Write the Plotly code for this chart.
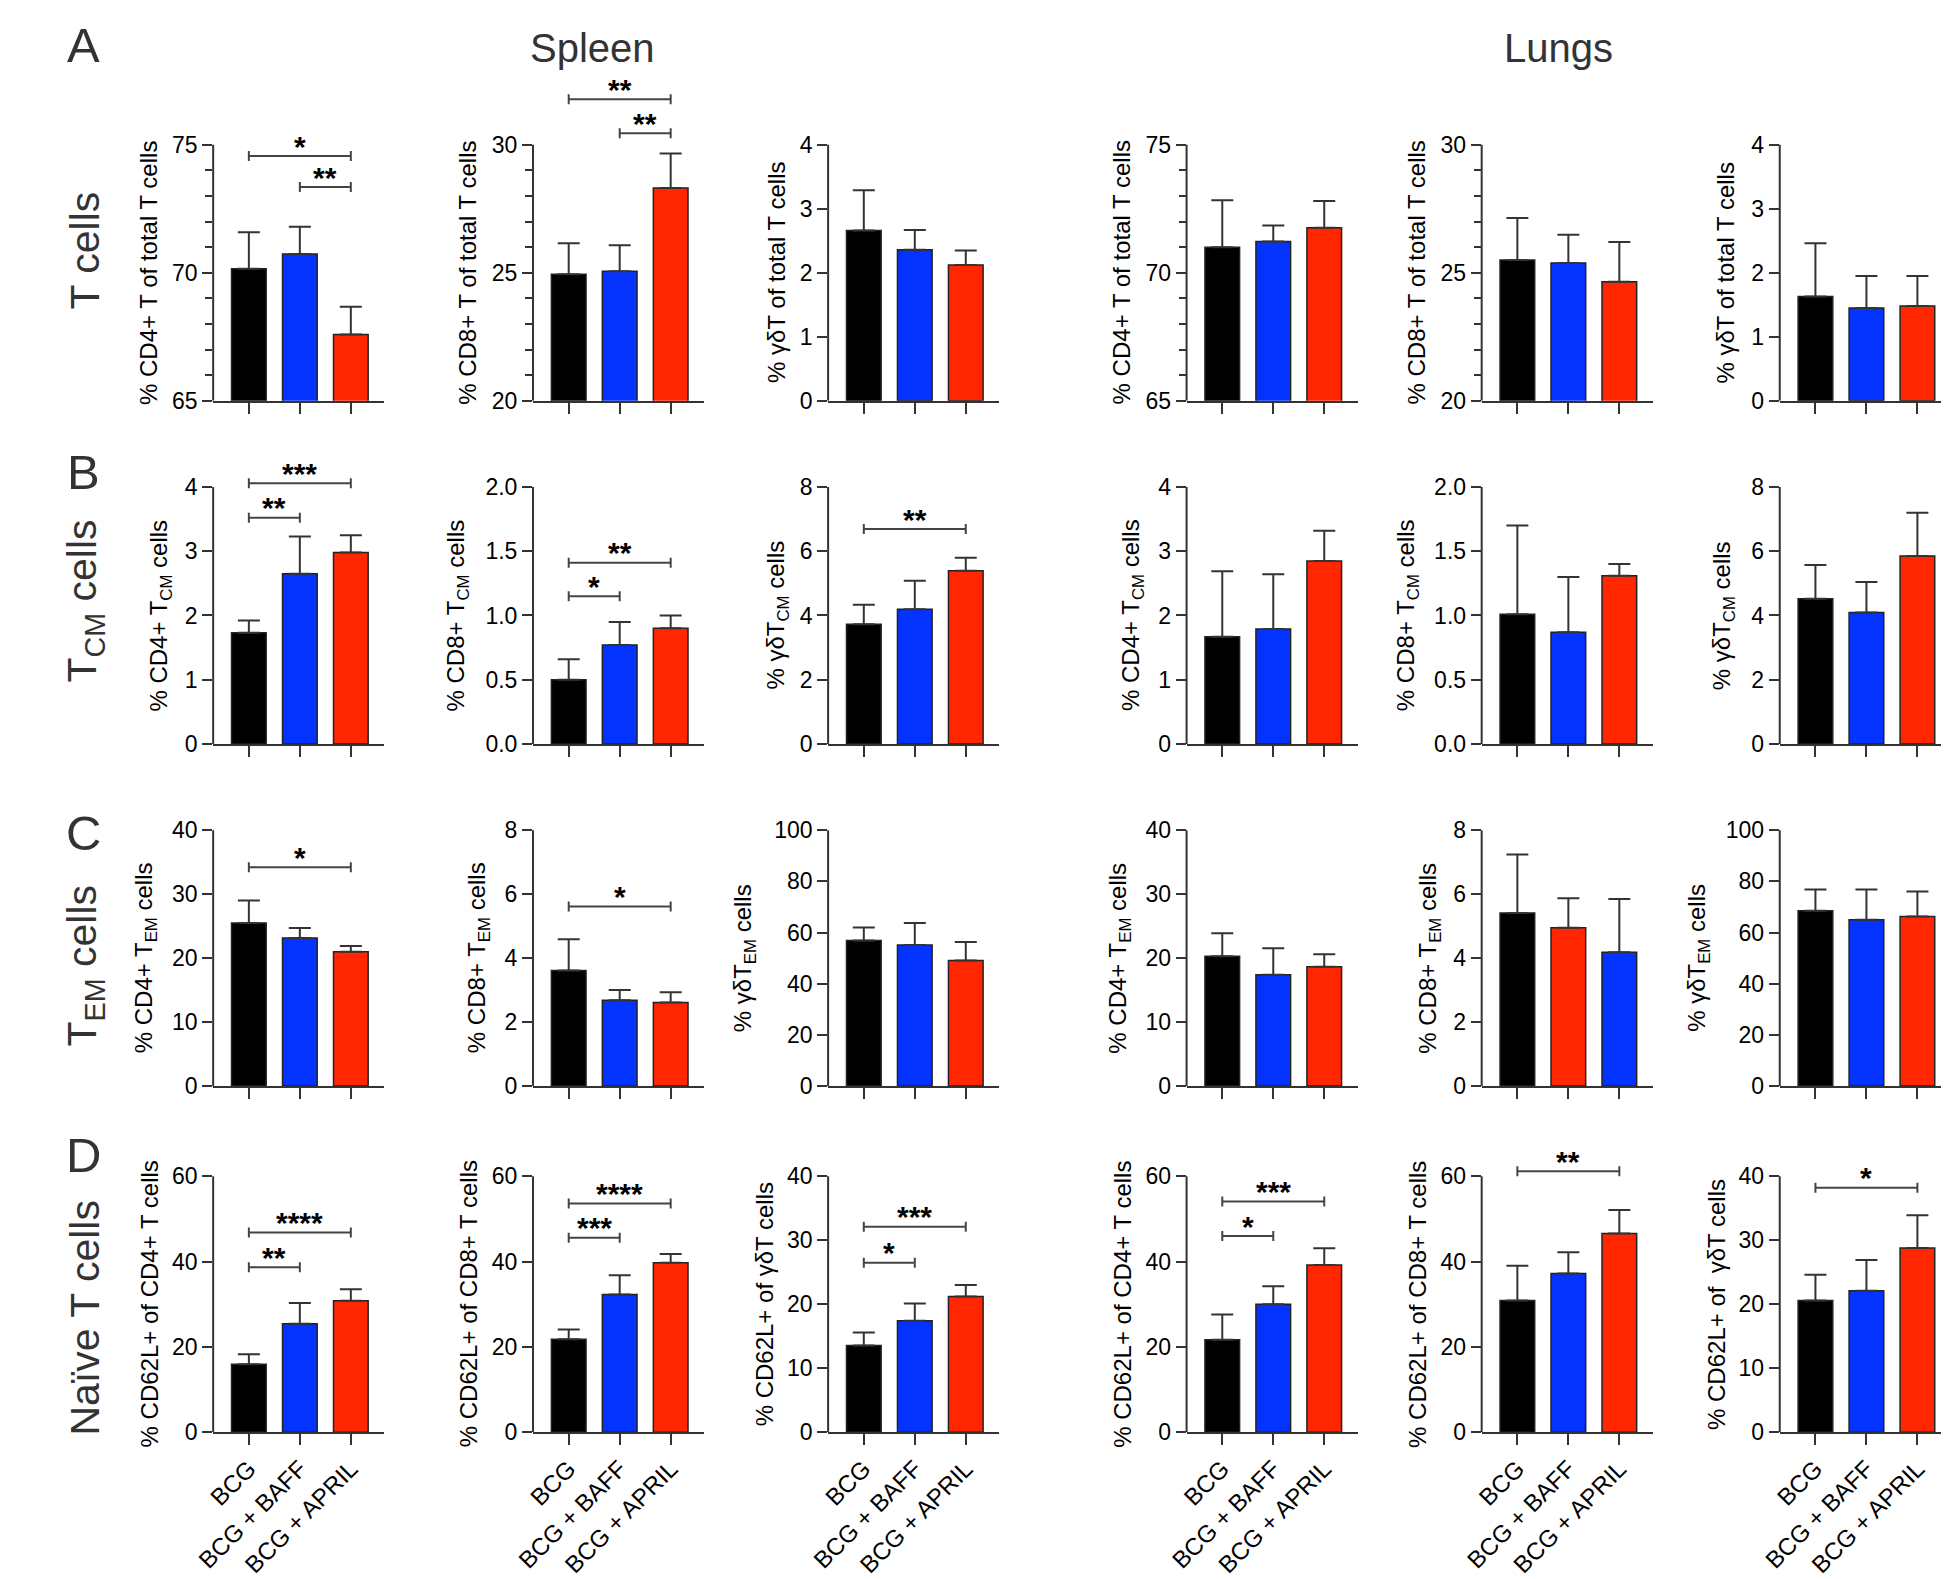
import plotly.graph_objects as go

groups = ["BCG", "BCG + BAFF", "BCG + APRIL"]
BLACK, BLUE, RED = "#000000", "#0433FF", "#FF2600"
std_colors = [BLACK, BLUE, RED]

# ---- row A: T cells, % of total T cells (spleen, then lungs)
a_spl_cd4 = [70.16, 70.73, 67.59]
a_spl_cd4_sem = [1.42, 1.07, 1.08]
a_spl_cd4_sig = [(0, 2, 74.56, "*"), (1, 2, 73.35, "**")]
a_spl_cd8 = [24.94, 25.06, 28.31]
a_spl_cd8_sem = [1.21, 1.02, 1.35]
a_spl_cd8_sig = [(0, 2, 31.78, "**"), (1, 2, 30.45, "**")]
a_spl_gd = [2.66, 2.36, 2.12]
a_spl_gd_sem = [0.63, 0.31, 0.23]
a_lun_cd4 = [71.0, 71.22, 71.76]
a_lun_cd4_sem = [1.84, 0.63, 1.05]
a_lun_cd8 = [25.5, 25.38, 24.65]
a_lun_cd8_sem = [1.64, 1.11, 1.55]
a_lun_gd = [1.63, 1.45, 1.48]
a_lun_gd_sem = [0.83, 0.50, 0.47]

# ---- row B: TCM cells
b_spl_cd4 = [1.73, 2.65, 2.98]
b_spl_cd4_sem = [0.19, 0.58, 0.27]
b_spl_cd4_sig = [(0, 2, 4.06, "***"), (0, 1, 3.52, "**")]
b_spl_cd8 = [0.50, 0.77, 0.90]
b_spl_cd8_sem = [0.16, 0.18, 0.10]
b_spl_cd8_sig = [(0, 2, 1.41, "**"), (0, 1, 1.15, "*")]
b_spl_gd = [3.73, 4.19, 5.39]
b_spl_gd_sem = [0.60, 0.89, 0.41]
b_spl_gd_sig = [(0, 2, 6.69, "**")]
b_lun_cd4 = [1.67, 1.79, 2.85]
b_lun_cd4_sem = [1.02, 0.85, 0.47]
b_lun_cd8 = [1.01, 0.87, 1.31]
b_lun_cd8_sem = [0.69, 0.43, 0.09]
b_lun_gd = [4.52, 4.09, 5.85]
b_lun_gd_sem = [1.05, 0.95, 1.35]

# ---- row C: TEM cells
c_spl_cd4 = [25.5, 23.16, 20.98]
c_spl_cd4_sem = [3.5, 1.54, 0.92]
c_spl_cd4_sig = [(0, 2, 34.2, "*")]
c_spl_cd8 = [3.61, 2.68, 2.61]
c_spl_cd8_sem = [0.98, 0.32, 0.32]
c_spl_cd8_sig = [(0, 2, 5.61, "*")]
c_spl_gd = [56.9, 55.1, 49.1]
c_spl_gd_sem = [5.1, 8.6, 7.2]
c_lun_cd4 = [20.3, 17.4, 18.65]
c_lun_cd4_sem = [3.6, 4.15, 1.95]
c_lun_cd8 = [5.41, 4.95, 4.18]
c_lun_cd8_sem = [1.83, 0.92, 1.67]
c_lun_cd8_colors = [BLACK, RED, BLUE]
c_lun_gd = [68.5, 65.0, 66.3]
c_lun_gd_sem = [8.3, 11.8, 9.7]

# ---- row D: naive T cells (CD62L+)
d_spl_cd4 = [15.9, 25.4, 30.8]
d_spl_cd4_sem = [2.4, 4.9, 2.7]
d_spl_cd4_sig = [(0, 2, 46.8, "****"), (0, 1, 38.7, "**")]
d_spl_cd8 = [21.8, 32.3, 39.7]
d_spl_cd8_sem = [2.3, 4.5, 2.1]
d_spl_cd8_sig = [(0, 2, 53.6, "****"), (0, 1, 45.6, "***")]
d_spl_gd = [13.55, 17.4, 21.2]
d_spl_gd_sem = [2.05, 2.7, 1.8]
d_spl_gd_sig = [(0, 2, 32.1, "***"), (0, 1, 26.5, "*")]
d_lun_cd4 = [21.66, 30.0, 39.2]
d_lun_cd4_sem = [5.94, 4.2, 3.9]
d_lun_cd4_sig = [(0, 2, 54.1, "***"), (0, 1, 46.0, "*")]
d_lun_cd8 = [30.9, 37.2, 46.6]
d_lun_cd8_sem = [8.15, 5.0, 5.5]
d_lun_cd8_sig = [(0, 2, 61.2, "**")]
d_lun_gd = [20.6, 22.1, 28.8]
d_lun_gd_sem = [4.0, 4.8, 5.1]
d_lun_gd_sig = [(0, 2, 38.2, "*")]

# ---- y tick sets
t_65_75 = [65, 70, 75]
m_65_75 = [66, 67, 68, 69, 71, 72, 73, 74]
t_20_30 = [20, 25, 30]
m_20_30 = [21, 22, 23, 24, 26, 27, 28, 29]
t_0_4 = [0, 1, 2, 3, 4]
t_0_2 = [0, 0.5, 1.0, 1.5, 2.0]
t_0_2_txt = ["0.0", "0.5", "1.0", "1.5", "2.0"]
t_0_8 = [0, 2, 4, 6, 8]
t_0_40 = [0, 10, 20, 30, 40]
t_0_100 = [0, 20, 40, 60, 80, 100]
t_0_60 = [0, 20, 40, 60]

# ---- y axis titles
ti_a = ["% CD4+ T of total T cells", "% CD8+ T of total T cells", "% γδT of total T cells"]
ti_b = ["% CD4+ T<sub>CM</sub> cells", "% CD8+ T<sub>CM</sub> cells", "% γδT<sub>CM</sub> cells"]
ti_c = ["% CD4+ T<sub>EM</sub> cells", "% CD8+ T<sub>EM</sub> cells", "% γδT<sub>EM</sub> cells"]
ti_d = ["% CD62L+ of CD4+ T cells", "% CD62L+ of CD8+ T cells", "% CD62L+ of γδT cells"]
ti_d6 = "% CD62L+ of  γδT cells"

row_names = ["T cells", "T<sub>CM</sub> cells", "T<sub>EM</sub> cells", "Naïve T cells"]
letters = ["A", "B", "C", "D"]

# panel table: (means, sem, colors, tickvals, ticktext, minor, title, sig)
panels = [
    [(a_spl_cd4, a_spl_cd4_sem, std_colors, t_65_75, None, m_65_75, ti_a[0], a_spl_cd4_sig),
     (a_spl_cd8, a_spl_cd8_sem, std_colors, t_20_30, None, m_20_30, ti_a[1], a_spl_cd8_sig),
     (a_spl_gd, a_spl_gd_sem, std_colors, t_0_4, None, None, ti_a[2], []),
     (a_lun_cd4, a_lun_cd4_sem, std_colors, t_65_75, None, m_65_75, ti_a[0], []),
     (a_lun_cd8, a_lun_cd8_sem, std_colors, t_20_30, None, m_20_30, ti_a[1], []),
     (a_lun_gd, a_lun_gd_sem, std_colors, t_0_4, None, None, ti_a[2], [])],
    [(b_spl_cd4, b_spl_cd4_sem, std_colors, t_0_4, None, None, ti_b[0], b_spl_cd4_sig),
     (b_spl_cd8, b_spl_cd8_sem, std_colors, t_0_2, t_0_2_txt, None, ti_b[1], b_spl_cd8_sig),
     (b_spl_gd, b_spl_gd_sem, std_colors, t_0_8, None, None, ti_b[2], b_spl_gd_sig),
     (b_lun_cd4, b_lun_cd4_sem, std_colors, t_0_4, None, None, ti_b[0], []),
     (b_lun_cd8, b_lun_cd8_sem, std_colors, t_0_2, t_0_2_txt, None, ti_b[1], []),
     (b_lun_gd, b_lun_gd_sem, std_colors, t_0_8, None, None, ti_b[2], [])],
    [(c_spl_cd4, c_spl_cd4_sem, std_colors, t_0_40, None, None, ti_c[0], c_spl_cd4_sig),
     (c_spl_cd8, c_spl_cd8_sem, std_colors, t_0_8, None, None, ti_c[1], c_spl_cd8_sig),
     (c_spl_gd, c_spl_gd_sem, std_colors, t_0_100, None, None, ti_c[2], []),
     (c_lun_cd4, c_lun_cd4_sem, std_colors, t_0_40, None, None, ti_c[0], []),
     (c_lun_cd8, c_lun_cd8_sem, c_lun_cd8_colors, t_0_8, None, None, ti_c[1], []),
     (c_lun_gd, c_lun_gd_sem, std_colors, t_0_100, None, None, ti_c[2], [])],
    [(d_spl_cd4, d_spl_cd4_sem, std_colors, t_0_60, None, None, ti_d[0], d_spl_cd4_sig),
     (d_spl_cd8, d_spl_cd8_sem, std_colors, t_0_60, None, None, ti_d[1], d_spl_cd8_sig),
     (d_spl_gd, d_spl_gd_sem, std_colors, t_0_40, None, None, ti_d[2], d_spl_gd_sig),
     (d_lun_cd4, d_lun_cd4_sem, std_colors, t_0_60, None, None, ti_d[0], d_lun_cd4_sig),
     (d_lun_cd8, d_lun_cd8_sem, std_colors, t_0_60, None, None, ti_d[1], d_lun_cd8_sig),
     (d_lun_gd, d_lun_gd_sem, std_colors, t_0_40, None, None, ti_d6, d_lun_gd_sig)],
]

# ---- layout geometry (pixels)
W, H = 1949, 1579
col_left = [188, 511, 809, 1171, 1469, 1770]
axis_w = 173
row_top = [138, 483, 829, 1178]
row_bot = [396, 742, 1087, 1436]
# distance of each y title centre from its axis line
title_off = [[64, 65, 51, 65, 65, 54],
             [53, 76, 51, 54, 74, 56],
             [68, 55, 84, 67, 53, 82],
             [64, 65, 64, 64, 64, 64]]
ext = 0.25
FONT = "Liberation Sans, Arial, sans-serif"
AX = "#333333"

fig = go.Figure()
layout = dict(width=W, height=H, margin=dict(l=0, r=0, t=0, b=0),
              plot_bgcolor="white", paper_bgcolor="white", showlegend=False,
              font=dict(family=FONT, color="black"))
shapes, annots = [], []

k = 0
for r, row in enumerate(panels):
    for c, (means, sem, colors, tv, tt, minor, title, sig) in enumerate(row):
        k += 1
        sx = "" if k == 1 else str(k)
        ymin, ytop = tv[0], tv[-1]
        span = ytop - ymin
        yb, yt = row_bot[r], row_top[r]
        dom_top = yt - ext * (yb - yt)

        fig.add_trace(go.Bar(
            x=[0, 1, 2], y=means, width=0.68,
            marker=dict(color=colors, line=dict(color="#222", width=1.5)),
            error_y=dict(type="data", symmetric=False, array=sem, arrayminus=[0, 0, 0],
                         color=AX, thickness=2, width=11),
            xaxis="x" + sx, yaxis="y" + sx))

        layout["xaxis" + sx] = dict(
            domain=[col_left[c] / W, (col_left[c] + axis_w) / W],
            range=[-0.7, 2.66], anchor="y" + sx,
            tickvals=[0, 1, 2], ticktext=groups, showticklabels=(r == 3),
            tickangle=-45, tickfont=dict(size=24, family=FONT),
            ticks="outside", ticklen=11, tickwidth=2, tickcolor=AX,
            showline=True, linewidth=2, linecolor=AX,
            showgrid=False, zeroline=False, fixedrange=True)
        ya = dict(
            domain=[1 - yb / H, 1 - dom_top / H],
            range=[ymin, ytop + ext * span], anchor="x" + sx,
            tickvals=tv, ticktext=tt if tt else [str(v) for v in tv],
            tickfont=dict(size=23, family=FONT),
            ticks="outside", ticklen=10, tickwidth=2, tickcolor=AX,
            showline=False, showgrid=False, zeroline=False, fixedrange=True)
        if minor:
            ya["minor"] = dict(tickvals=minor, ticks="outside", ticklen=7,
                               tickwidth=2, tickcolor=AX, showgrid=False)
        layout["yaxis" + sx] = ya

        # y axis line only up to the top tick
        shapes.append(dict(type="line", xref="x" + sx + " domain", yref="y" + sx,
                           x0=0, x1=0, y0=ymin, y1=ytop,
                           line=dict(color=AX, width=2)))

        # y axis title, centred on the visible part of the axis
        annots.append(dict(x=0, y=(ymin + ytop) / 2, xref="x" + sx + " domain",
                           yref="y" + sx, text=title, textangle=-90, showarrow=False,
                           xanchor="center", yanchor="middle", xshift=-title_off[r][c],
                           font=dict(size=24, family=FONT, color="black")))

        # significance brackets
        for i, j, lev, lab in sig:
            shapes.append(dict(type="line", xref="x" + sx, yref="y" + sx,
                               x0=i, x1=j, y0=lev, y1=lev,
                               line=dict(color="#444", width=2)))
            for e in (i, j):
                shapes.append(dict(type="line", xref="x" + sx, yref="y" + sx,
                                   ysizemode="pixel", yanchor=lev, y0=-5, y1=5,
                                   x0=e, x1=e, line=dict(color="#444", width=2)))
            annots.append(dict(x=(i + j) / 2, y=lev, xref="x" + sx, yref="y" + sx,
                               text="<b>" + lab + "</b>", showarrow=False,
                               xanchor="center", yanchor="middle", yshift=10,
                               font=dict(size=30, family=FONT, color="black")))

# row labels and panel letters
row_label_y = [244, 598, 965, 1321]
letter_y = [37, 468, 832, 1157]
for r in range(4):
    annots.append(dict(x=59 / W, y=1 - row_label_y[r] / H, xref="paper", yref="paper",
                       text=row_names[r], textangle=-90, showarrow=False,
                       xanchor="center", yanchor="middle",
                       font=dict(size=41, family=FONT, color="#333")))
    annots.append(dict(x=57 / W, y=1 - letter_y[r] / H, xref="paper", yref="paper",
                       text=letters[r], showarrow=False,
                       xanchor="center", yanchor="middle",
                       font=dict(size=49, family=FONT, color="#333")))

for name, px in (("Spleen", 571), ("Lungs", 1547)):
    annots.append(dict(x=px / W, y=1 - 40 / H, xref="paper", yref="paper",
                       text=name, showarrow=False, xanchor="center", yanchor="middle",
                       font=dict(size=40, family=FONT, color="#333")))

layout["shapes"] = shapes
layout["annotations"] = annots
fig.update_layout(**layout)

fig.write_html("out.html")
